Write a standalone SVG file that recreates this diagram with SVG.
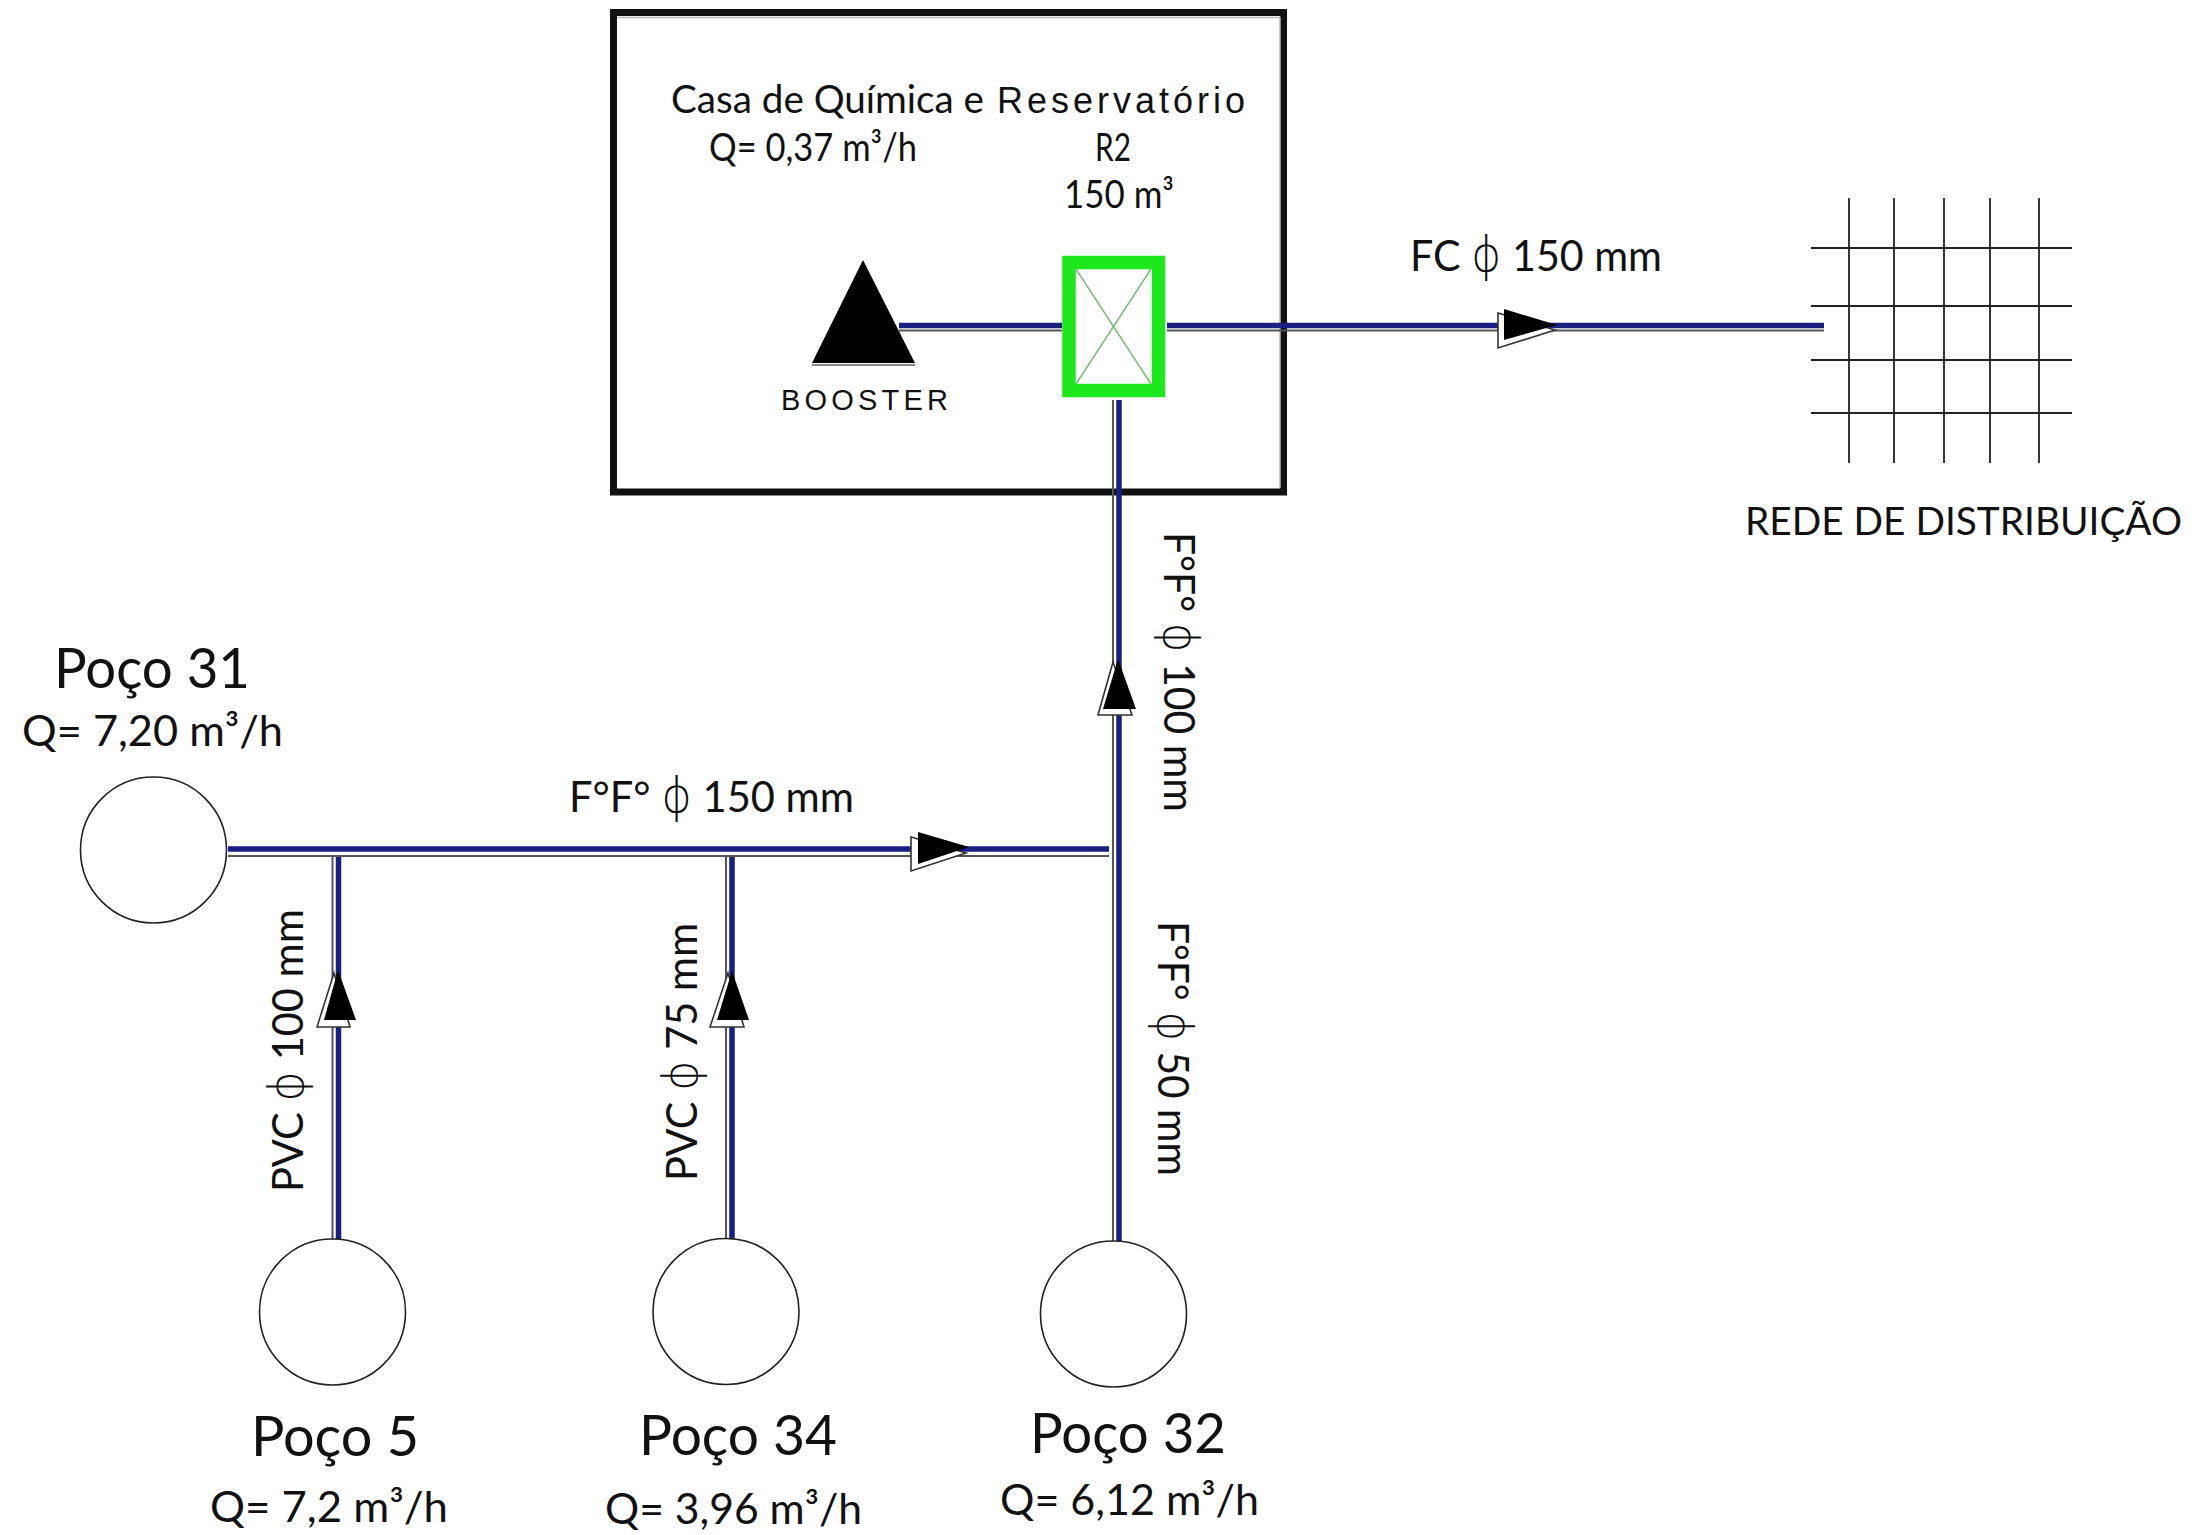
<svg xmlns="http://www.w3.org/2000/svg" width="2196" height="1535" viewBox="0 0 2196 1535">
<style>
text{font-family:Lato,"Liberation Sans",sans-serif;fill:#111}
.s{font-size:39px}.l{font-size:57px}.m{font-size:43px}.a{font-family:"Liberation Sans",sans-serif}
.p{font-family:"DejaVu Sans",sans-serif;font-size:48px;font-weight:200}
.well{fill:#fff;stroke:#222;stroke-width:1.6}
.b{stroke:#1a1f82;stroke-width:5.5;fill:none}
.g{stroke:#555;stroke-width:2;fill:none}
.af{fill:#000}.ao{fill:#fff;stroke:#333;stroke-width:1.6}
.grid{stroke:#222;stroke-width:1.8}
</style>
<rect width="2196" height="1535" fill="#fff"/>
<g id="casa">
<rect x="613.5" y="12.5" width="670" height="479.5" fill="#fff" stroke="#111" stroke-width="7"/>
<path d="M617 17.500H1280V488" fill="none" stroke="#bbb" stroke-width="1.500"/>
<text class="s" x="671" y="113" textLength="313" lengthAdjust="spacingAndGlyphs">Casa de Química e</text>
<text class="a" font-size="36" x="997" y="113" textLength="248" lengthAdjust="spacing">Reservatório</text>
<text class="s" x="709" y="161" textLength="208" lengthAdjust="spacingAndGlyphs">Q= 0,37 m³/h</text>
</g>
<g id="connectors">
<path class="b" d="M899 325.500H1062M1167 325.500H1824M228 849H1109M338.500 857V1239M732 857V1239M1119 400V1241"/>
<path class="g" d="M899 330.500H1062M1167 330.500H1824M228 856H1109M332.500 857V1239M726 857V1239M1113 400V1241"/>
<polygon class="ao" points="1498,313 1555,330 1498,348"/><polygon class="af" points="1504,309 1557,325 1504,340"/>
<polygon class="ao" points="911,837 966,853 911,871"/><polygon class="af" points="918,832 969,847 918,864"/>
<polygon class="ao" points="334,973 317,1027 350,1027"/><polygon class="af" points="338,970 324,1020 356,1020"/>
<polygon class="ao" points="728,973 710,1027 744,1027"/><polygon class="af" points="732,971 717,1020 749,1020"/>
<polygon class="ao" points="1113,662 1098,715 1132,715"/><polygon class="af" points="1118,659 1103,709 1136,709"/>
</g>
<g id="booster">
<polygon points="863,260 812,363 915,363" fill="#000"/>
<path d="M812 365H915" stroke="#888" stroke-width="2"/>
<text class="a" font-size="29" x="781" y="410" textLength="167" lengthAdjust="spacing">BOOSTER</text>
</g>
<g id="r2">
<rect x="1069" y="262.500" width="89.500" height="128" fill="#fff" stroke="#1ce81c" stroke-width="13.500"/>
<path d="M1076 269L1151 384M1151 269L1076 384" stroke="#7dbb7d" stroke-width="1.500"/>
<text class="s" x="1095" y="161" textLength="36" lengthAdjust="spacingAndGlyphs">R2</text>
<text class="s" x="1064" y="208" textLength="110" lengthAdjust="spacingAndGlyphs">150 m³</text>
</g>
<g id="rede">
<path class="grid" d="M1849 198V463M1894 198V463M1944 198V463M1990 198V463M2039 198V463M1811 248H2072M1811 306H2072M1811 360H2072M1811 413H2072"/>
<text font-size="39" x="1745" y="535" textLength="437" lengthAdjust="spacingAndGlyphs">REDE DE DISTRIBUIÇÃO</text>
</g>
<g id="poco31">
<circle class="well" cx="153.500" cy="850" r="73"/>
<text class="l" x="54" y="688" textLength="196" lengthAdjust="spacingAndGlyphs">Poço 31</text>
<text class="m" x="22" y="746" textLength="261" lengthAdjust="spacingAndGlyphs">Q= 7,20 m³/h</text>
</g>
<g id="poco5">
<circle class="well" cx="332.500" cy="1312" r="73"/>
<text class="l" x="251" y="1456" textLength="168" lengthAdjust="spacingAndGlyphs">Poço 5</text>
<text class="m" x="210" y="1522" textLength="238" lengthAdjust="spacingAndGlyphs">Q= 7,2 m³/h</text>
</g>
<g id="poco34">
<circle class="well" cx="726" cy="1311.500" r="73"/>
<text class="l" x="639" y="1455" textLength="198" lengthAdjust="spacingAndGlyphs">Poço 34</text>
<text class="m" x="605" y="1524" textLength="257" lengthAdjust="spacingAndGlyphs">Q= 3,96 m³/h</text>
</g>
<g id="poco32">
<circle class="well" cx="1113.500" cy="1314" r="73"/>
<text class="l" x="1030" y="1453" textLength="196" lengthAdjust="spacingAndGlyphs">Poço 32</text>
<text class="m" x="1000" y="1515" textLength="259" lengthAdjust="spacingAndGlyphs">Q= 6,12 m³/h</text>
</g>
<g id="labels">
<text class="m" x="569" y="812" textLength="285" lengthAdjust="spacingAndGlyphs">F°F° <tspan class="p">ϕ</tspan> 150 mm</text>
<text class="m" x="1410" y="271" textLength="252" lengthAdjust="spacingAndGlyphs">FC <tspan class="p">ϕ</tspan> 150 mm</text>
<text class="m" transform="translate(303 1192) rotate(-90)" textLength="283" lengthAdjust="spacingAndGlyphs">PVC <tspan class="p">ϕ</tspan> 100 mm</text>
<text class="m" transform="translate(697 1181) rotate(-90)" textLength="258" lengthAdjust="spacingAndGlyphs">PVC <tspan class="p">ϕ</tspan> 75 mm</text>
<text class="m" transform="translate(1164 532) rotate(90)" textLength="280" lengthAdjust="spacingAndGlyphs">F°F° <tspan class="p">ϕ</tspan> 100 mm</text>
<text class="m" transform="translate(1158 921) rotate(90)" textLength="255" lengthAdjust="spacingAndGlyphs">F°F° <tspan class="p">ϕ</tspan> 50 mm</text>
</g>
</svg>
